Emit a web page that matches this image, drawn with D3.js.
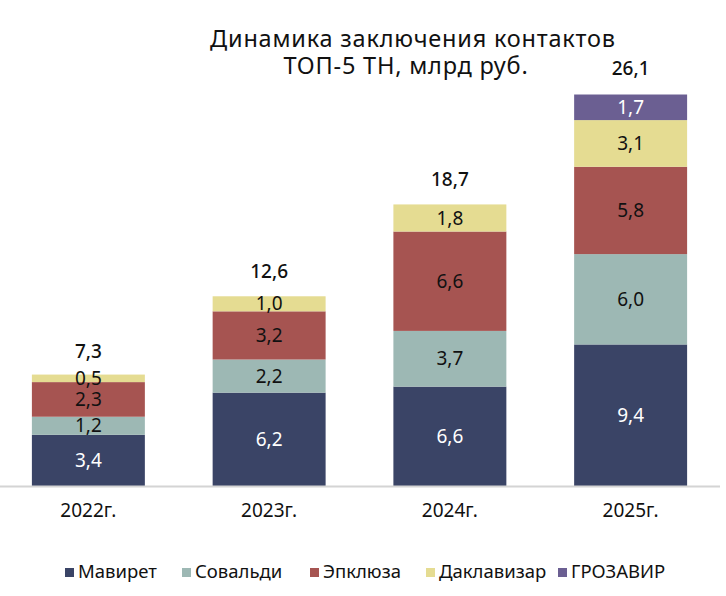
<!DOCTYPE html>
<html>
<head>
<meta charset="utf-8">
<script src="https://cdn.jsdelivr.net/npm/d3@7"></script>
<style>
  body { margin: 0; background: #fff; }
  text { font-family: "Noto Sans", sans-serif; }
</style>
</head>
<body>
<script>
// data
var years = ["2022г.", "2023г.", "2024г.", "2025г."];
var drugs = ["Мавирет", "Совальди", "Эпклюза", "Даклавизар", "ГРОЗАВИР"];
var mavyret = [3.4, 6.2, 6.6, 9.4];
var sovaldi = [1.2, 2.2, 3.7, 6.0];
var epclusa = [2.3, 3.2, 6.6, 5.8];
var daklavizar = [0.5, 1.0, 1.8, 3.1];
var grozavir = [0, 0, 0, 1.7];
var totals = [7.3, 12.6, 18.7, 26.1];

var colors = ["#3a4466", "#9db8b4", "#a65451", "#e5dc92", "#6b5f92"];
var labelColors = ["#fff", "#111", "#111", "#111", "#fff"];

var width = 726, height = 596;

// build rows for stack
var rows = years.map(function(y, i) {
  return {
    year: y,
    "Мавирет": mavyret[i],
    "Совальди": sovaldi[i],
    "Эпклюза": epclusa[i],
    "Даклавизар": daklavizar[i],
    "ГРОЗАВИР": grozavir[i],
    total: totals[i]
  };
});

var series = d3.stack().keys(drugs)(rows);

var x = d3.scaleBand().domain(years).range([-2, 721])
  .paddingInner(0.375).paddingOuter(0.1875);
var y = d3.scaleLinear().domain([0, 26.1]).range([486, 93]);

var fmt = function(v) { return d3.format(".1f")(v).replace(".", ","); };

var svg = d3.select("body").append("svg")
  .attr("width", width)
  .attr("height", height);

// title
var title = svg.append("text")
  .attr("text-anchor", "middle")
  .style("font-size", "23.5px")
  .style("letter-spacing", "0.8px")
  .style("fill", "#111");
title.append("tspan").attr("x", 413).attr("y", 47).text("Динамика заключения контактов");
title.append("tspan").attr("x", 406).attr("y", 74).text("ТОП-5 ТН, млрд руб.");

// bars
var groups = svg.selectAll("g.series")
  .data(series).enter().append("g")
  .attr("class", "series")
  .attr("fill", function(d, i) { return colors[i]; });

groups.selectAll("rect")
  .data(function(d) { return d.filter(function(p) { return p[1] - p[0] > 0; }); })
  .enter().append("rect")
  .attr("x", function(d) { return x(d.data.year); })
  .attr("y", function(d) { return y(d[1]); })
  .attr("width", x.bandwidth())
  .attr("height", function(d) { return y(d[0]) - y(d[1]); });

// segment labels
groups.each(function(s, i) {
  d3.select(this).selectAll("text")
    .data(s.filter(function(p) { return p[1] - p[0] > 0; }))
    .enter().append("text")
    .attr("x", function(d) { return x(d.data.year) + x.bandwidth() / 2; })
    .attr("y", function(d) { return (y(d[0]) + y(d[1])) / 2; })
    .attr("dy", "0.35em")
    .attr("text-anchor", "middle")
    .style("font-size", "19px")
    .style("fill", labelColors[i])
    .text(function(d) { return fmt(d[1] - d[0]); });
});

// totals
svg.selectAll("text.total")
  .data(rows).enter().append("text")
  .attr("class", "total")
  .attr("x", function(d) { return x(d.year) + x.bandwidth() / 2; })
  .attr("y", function(d) { return y(d.total) - 25; })
  .attr("dy", "0.35em")
  .attr("text-anchor", "middle")
  .style("font-size", "19px")
  .style("font-weight", "500")
  .style("fill", "#111")
  .text(function(d) { return fmt(d.total); });

// x axis
var xAxis = svg.append("g")
  .attr("transform", "translate(0," + 486 + ")")
  .call(d3.axisBottom(x).tickSize(0).tickPadding(18));
xAxis.select(".domain").attr("stroke", "#d4d4d4").attr("stroke-width", 2)
  .attr("d", "M0,0.5H720");
xAxis.selectAll("text")
  .style("font-size", "19px")
  .style("fill", "#111")
  .style("font-family", "'Noto Sans', sans-serif");

// legend
var legendX = [65, 182, 310, 426, 558];
var legend = svg.selectAll("g.legend")
  .data(drugs).enter().append("g")
  .attr("class", "legend")
  .attr("transform", function(d, i) { return "translate(" + legendX[i] + ",572)"; });
legend.append("rect")
  .attr("x", 0).attr("y", -4)
  .attr("width", 9).attr("height", 9)
  .attr("fill", function(d, i) { return colors[i]; });
legend.append("text")
  .attr("x", 13).attr("y", 0)
  .attr("dy", "0.35em")
  .style("font-size", "18.5px")
  .style("fill", "#111")
  .text(function(d) { return d; });
</script>
</body>
</html>
